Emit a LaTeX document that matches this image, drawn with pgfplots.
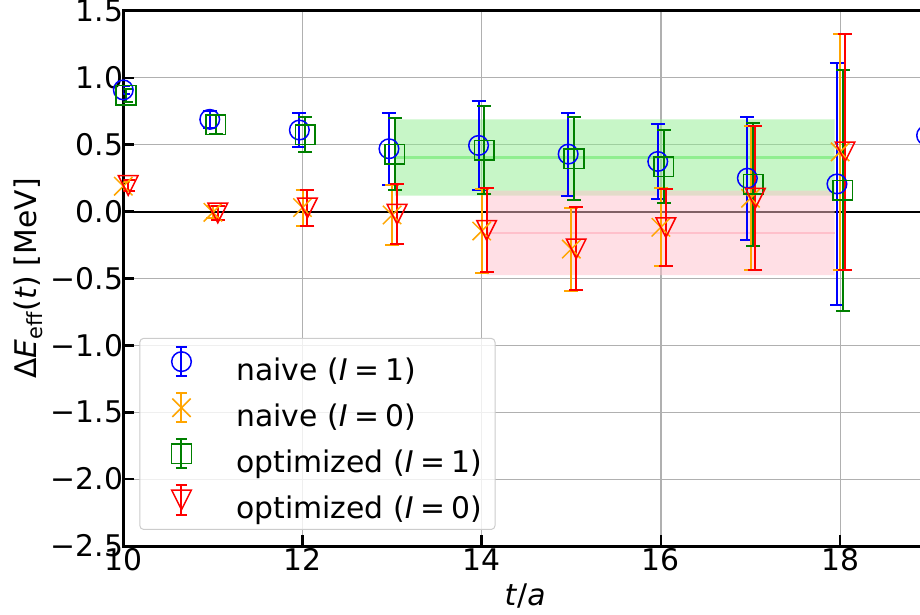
\documentclass[border=0pt]{standalone}
\usepackage{fontspec}
\setmainfont{DejaVu Sans}
\usepackage{pgfplots}
\pgfplotsset{compat=1.18}
\usepackage{pgfplotstable}
\definecolor{mblue}{HTML}{0000FF}
\definecolor{morange}{HTML}{FFA500}
\definecolor{mgreen}{HTML}{008000}
\definecolor{mred}{HTML}{FF0000}
\definecolor{lgreen}{HTML}{90EE90}
\definecolor{lpink}{HTML}{FFC0CB}
\definecolor{gridc}{HTML}{B0B0B0}
\definecolor{legedge}{HTML}{CCCCCC}
\newcommand\fsz{\fontsize{14.9bp}{17.5bp}\selectfont}

\pgfdeclareplotmark{tridown}{%
 \pgfpathmoveto{\pgfqpoint{0pt}{-\pgfplotmarksize}}%
 \pgfpathlineto{\pgfqpoint{-\pgfplotmarksize}{\pgfplotmarksize}}%
 \pgfpathlineto{\pgfqpoint{\pgfplotmarksize}{\pgfplotmarksize}}%
 \pgfpathclose\pgfusepathqstroke}

\pgfplotsset{
 eb/.style={/pgfplots/error bars/y dir=both, /pgfplots/error bars/y explicit},
}

\pgfplotstableread{
x y e
10.0 0.91 0.03
10.965 0.69 0.065
11.965 0.61 0.13
12.965 0.47 0.27
13.965 0.495 0.33
14.965 0.43 0.31
15.965 0.375 0.28
16.965 0.25 0.46
17.965 0.207 0.906
18.965 0.57 1.56
}\naiveone

\pgfplotstableread{
x y e
10 0.19 0.03
11 -0.005 0.045
12 0.03 0.135
13 -0.025 0.225
14 -0.145 0.315
15 -0.28 0.31
16 -0.117 0.29
17 0.10 0.54
18 0.447 0.884
}\naivezero

\pgfplotstableread{
x y e
10.03 0.87 0.05
11.03 0.65 0.07
12.03 0.575 0.13
13.03 0.43 0.27
14.03 0.46 0.33
15.03 0.394 0.31
16.03 0.337 0.275
17.03 0.204 0.46
18.03 0.16 0.90
}\optone

\pgfplotstableread{
x y e
10.055 0.195 0.04
11.055 -0.01 0.05
12.055 0.027 0.137
13.055 -0.02 0.225
14.055 -0.14 0.315
15.055 -0.278 0.31
16.055 -0.12 0.29
17.055 0.10 0.537
18.055 0.447 0.884
}\optzero

\begin{document}
\begin{tikzpicture}
\useasboundingbox (-61.65bp,-34.5bp) rectangle (398.35bp,273bp);
\begin{axis}[
 scale only axis, width=401.86bp, height=267.5bp,
 xmin=10, xmax=18.97, ymin=-2.5, ymax=1.5,
 xtick={10,12,14,16,18}, xticklabels={10,12,14,16,18},
 ytick={-2.5,-2,-1.5,-1,-0.5,0,0.5,1,1.5},
 yticklabels={−2.5,−2.0,−1.5,−1.0,−0.5,0.0,0.5,1.0,1.5},
 tick pos=left, tick align=inside, major tick length=5.5bp,
 tick style={black, line width=1.3bp},
 axis line style={line width=1.5bp},
 grid=major, grid style={gridc, line width=0.6bp},
 tick label style={font=\fsz},
 xticklabel style={inner sep=0pt, yshift=-1.2bp},
 yticklabel style={inner sep=0pt, xshift=0.2bp},
 label style={font=\fsz},
 xlabel={\textit{t}/\textit{a}},
 xlabel style={at={(axis description cs:0.5,-0.1103)}, anchor=base, inner sep=0pt},
 ylabel={Δ\textit{E}\textsubscript{eff}(\textit{t}) [MeV]},
 ylabel style={at={(axis description cs:-0.1372,0.5)}, anchor=north, inner sep=0pt},
 error bars/error bar style={line width=1bp},
 error bars/error mark options={rotate=90, mark size=3.5bp, line width=1bp},
 legend style={at={(axis description cs:0.0199,0.0299)}, anchor=south west,
   draw=legedge, line width=0.5bp, rounded corners=2bp, fill=white, fill opacity=0.8,
   text opacity=1, inner xsep=6.35bp, inner ysep=3.85bp, row sep=4.35bp, font=\fsz,
   nodes={inner sep=0pt}},
 legend cell align=left,
 legend image code/.code={
   \path[draw=none, fill=none] (0bp,-3bp) rectangle (42bp,12bp);
   \draw[#1, line width=1bp, mark=none, rounded corners=0pt] (14.5bp,-2.8bp) -- (14.5bp,11.8bp)
     (11.7bp,-2.8bp) -- (17.3bp,-2.8bp) (11.7bp,11.8bp) -- (17.3bp,11.8bp);
   \draw[#1, rounded corners=0pt] plot coordinates {(14.5bp,4.5bp)};
 },
 /pgf/number format/assume math mode=true,
]
% zero line
\addplot[black, line width=1bp, forget plot] coordinates {(9,0) (20,0)};
% bands
\addplot[draw=none, fill=lgreen, fill opacity=0.5, forget plot]
  coordinates {(13.03,0.12) (17.94,0.12) (17.94,0.69) (13.03,0.69) (13.03,0.12)};
\addplot[lgreen, line width=1.2bp, forget plot] coordinates {(13.03,0.405) (17.94,0.405)};
\addplot[draw=none, fill=lpink, fill opacity=0.5, forget plot]
  coordinates {(14.056,-0.474) (17.94,-0.474) (17.94,0.157) (14.056,0.157) (14.056,-0.474)};
\addplot[lpink, line width=1.2bp, forget plot] coordinates {(14.056,-0.16) (17.94,-0.16)};
% data
\addplot[color=mblue, only marks, mark=o, mark size=4.9bp, mark options={line width=0.75bp}, eb]
  table[x=x, y=y, y error=e] {\naiveone};
\addlegendentry{naive (\textit{I}\hspace{0.22em}=\hspace{0.22em}1)}
\addplot[color=morange, only marks, mark=x, mark size=6.5bp, mark options={line width=0.75bp}, eb]
  table[x=x, y=y, y error=e] {\naivezero};
\addlegendentry{naive (\textit{I}\hspace{0.22em}=\hspace{0.22em}0)}
\addplot[color=mgreen, only marks, mark=square, mark size=4.9bp, mark options={line width=0.75bp}, eb]
  table[x=x, y=y, y error=e] {\optone};
\addlegendentry{optimized (\textit{I}\hspace{0.22em}=\hspace{0.22em}1)}
\addplot[color=mred, only marks, mark=tridown, mark size=4.9bp, mark options={line width=0.75bp}, eb]
  table[x=x, y=y, y error=e] {\optzero};
\addlegendentry{optimized (\textit{I}\hspace{0.22em}=\hspace{0.22em}0)}
\end{axis}
\end{tikzpicture}
\end{document}
